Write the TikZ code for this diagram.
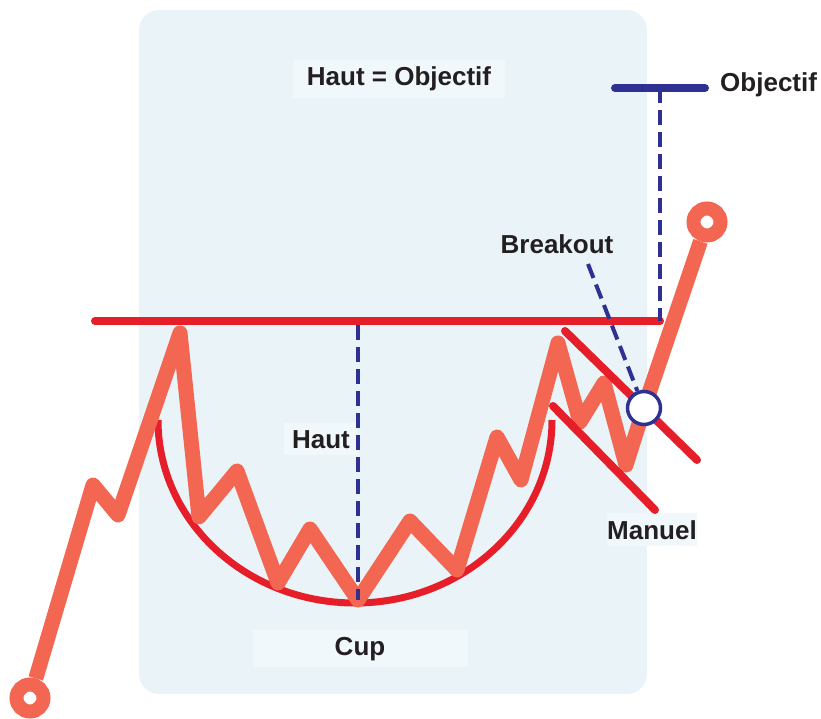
\documentclass[tikz,border=0pt]{standalone}
\usepackage{fontspec}
\setmainfont{Liberation Sans}
\usetikzlibrary{positioning}
\definecolor{panel}{HTML}{EAF4F8}
\definecolor{tagfill}{HTML}{F1F8FB}
\definecolor{price}{HTML}{F26652}
\definecolor{rim}{HTML}{E61E2A}
\definecolor{navy}{HTML}{2E3192}
\definecolor{ink}{HTML}{231F20}

\begin{document}
\begin{tikzpicture}[
  x=1pt, y=-1pt,
  lbl/.style={text=ink,inner sep=0pt,font=\bfseries\fontsize{26}{30}\selectfont},
  tag/.style={lbl,fill=tagfill,inner xsep=14pt,inner ysep=7pt},
  pline/.style={draw=price,line width=15pt,line join=round},
  ring/.style={circle,draw=price,fill=white,line width=14pt,minimum size=27pt,inner sep=0pt},
  redline/.style={draw=rim,line width=8pt,line cap=round},
  guide/.style={draw=navy,line width=4pt,dash pattern=on 15pt off 7pt}
]
  \useasboundingbox (0,0) rectangle (821,719);
  \fill[panel,rounded corners=20pt] (139,10) rectangle (647,694);

  % labels
  \node[tag,anchor=base] (goal) at (399,86) {Haut = Objectif};
  \node[tag,anchor=base,minimum width=215pt] (cup) at (360,655) {Cup};
  \node[tag,anchor=base east,inner xsep=8pt] (haut) at (358,448) {Haut};
  \node[tag,anchor=base west,inner xsep=0pt] (manuel) at (607,539) {Manuel\hspace{10pt}};
  \node[lbl,anchor=base] (breakout) at (557,253) {Breakout};
  \node[lbl,anchor=base west] (objectif) at (720,92) {Objectif};

  % cup
  \coordinate (cupL) at (158,420);
  \draw[rim,line width=7pt] (cupL) arc[start angle=180,end angle=0,x radius=197,y radius=183];

  % price
  \node[ring] (start) at (30,698) {};
  \node[ring] (finish) at (707,222) {};
  \coordinate (p1) at (93,485);
  \coordinate (p2) at (118,515);
  \coordinate (p3) at (180,333);
  \coordinate (p4) at (199,517);
  \coordinate (p5) at (237,471);
  \coordinate (p6) at (278,583);
  \coordinate (p7) at (310,529);
  \coordinate (p8) at (358,600);
  \coordinate (p9) at (410,521);
  \coordinate (p10) at (457,570);
  \coordinate (p11) at (497,437);
  \coordinate (p12) at (521,480);
  \coordinate (p13) at (558,343);
  \coordinate (p14) at (580,422);
  \coordinate (p15) at (604,383);
  \coordinate (p16) at (626,465);
  \coordinate (brkpt) at (644,408);
  \draw[pline] (start) -- (p1) -- (p2) -- (p3) -- (p4) -- (p5) -- (p6) -- (p7) -- (p8)
    -- (p9) -- (p10) -- (p11) -- (p12) -- (p13) -- (p14) -- (p15) -- (p16) -- (brkpt) -- (finish);

  % handle and resistance
  \coordinate (hu1) at (565,331);
  \coordinate (hu2) at (697,460);
  \coordinate (hl1) at (553,406);
  \coordinate (hl2) at (655,510);
  \draw[redline] (hu1) -- (hu2);
  \draw[redline] (hl1) -- (hl2);
  \coordinate (resL) at (95,321);
  \coordinate (resR) at (660,321);
  \draw[redline] (resL) -- (resR);

  % target
  \coordinate (objL) at (615,88);
  \coordinate (objM) at (660,88);
  \coordinate (objR) at (705,88);
  \draw[navy,line width=8pt,line cap=round] (objL) -- (objR);
  \draw[guide] (objM) -- (resR);

  % height
  \coordinate (hautTop) at (358,325);
  \draw[guide] (hautTop) -- (p8);

  % breakout
  \node[circle,draw=navy,fill=white,line width=3.5pt,minimum size=33pt] (brk) at (brkpt) {};
  \coordinate (bkTop) at (588,264);
  \draw[guide] (bkTop) -- (brk);
\end{tikzpicture}
\end{document}
